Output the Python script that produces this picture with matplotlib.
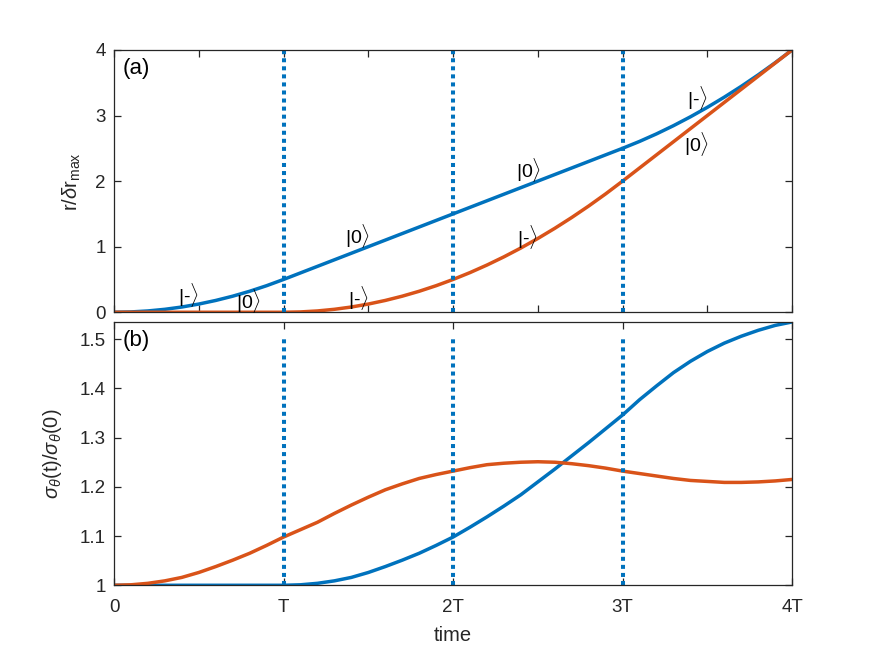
import numpy as np
import matplotlib
matplotlib.use("Agg")
import matplotlib.pyplot as plt

plt.rcParams['font.family'] = ['Liberation Sans', 'DejaVu Sans']
plt.rcParams['mathtext.fontset'] = 'custom'
plt.rcParams['mathtext.rm'] = 'Liberation Sans'
plt.rcParams['mathtext.it'] = 'Liberation Sans:italic'

BLUE = '#0072BD'
ORANGE = '#D95319'
AX = '#262626'

# time in units of T
t = [0.0, 0.1, 0.2, 0.3, 0.4, 0.5, 0.6, 0.7, 0.8, 0.9, 1.0,
     1.1, 1.2, 1.3, 1.4, 1.5, 1.6, 1.7, 1.8, 1.9, 2.0,
     2.1, 2.2, 2.3, 2.4, 2.5, 2.6, 2.7, 2.8, 2.9, 3.0,
     3.1, 3.2, 3.3, 3.4, 3.5, 3.6, 3.7, 3.8, 3.9, 4.0]

# (a) r / delta r_max
r_blue = [0.0, 0.005, 0.02, 0.045, 0.08, 0.125, 0.18, 0.245, 0.32, 0.405, 0.5,
          0.6, 0.7, 0.8, 0.9, 1.0, 1.1, 1.2, 1.3, 1.4, 1.5,
          1.6, 1.7, 1.8, 1.9, 2.0, 2.1, 2.2, 2.3, 2.4, 2.5,
          2.605, 2.72, 2.845, 2.98, 3.125, 3.28, 3.445, 3.62, 3.805, 4.0]
r_orange = [0.0, 0.0, 0.0, 0.0, 0.0, 0.0, 0.0, 0.0, 0.0, 0.0, 0.0,
            0.005, 0.02, 0.045, 0.08, 0.125, 0.18, 0.245, 0.32, 0.405, 0.5,
            0.605, 0.72, 0.845, 0.98, 1.125, 1.28, 1.445, 1.62, 1.805, 2.0,
            2.2, 2.4, 2.6, 2.8, 3.0, 3.2, 3.4, 3.6, 3.8, 4.0]

# (b) sigma_theta(t) / sigma_theta(0)
s_blue = [1.0, 1.0, 1.0, 1.0, 1.0, 1.0, 1.0, 1.0, 1.0, 1.0, 1.0,
          1.001, 1.004, 1.009, 1.016, 1.026, 1.038, 1.051, 1.065, 1.081, 1.098,
          1.118, 1.139, 1.161, 1.184, 1.21, 1.236, 1.263, 1.29, 1.318, 1.346,
          1.377, 1.405, 1.432, 1.455, 1.475, 1.492, 1.506, 1.518, 1.528, 1.535]
s_orange = [1.0, 1.001, 1.004, 1.009, 1.016, 1.026, 1.038, 1.051, 1.065, 1.081, 1.098,
            1.113, 1.128, 1.146, 1.163, 1.179, 1.194, 1.206, 1.217, 1.225, 1.232,
            1.239, 1.245, 1.248, 1.25, 1.251, 1.25, 1.247, 1.243, 1.238, 1.232,
            1.227, 1.222, 1.217, 1.213, 1.211, 1.209, 1.209, 1.21, 1.212, 1.215]

t_marks = [1, 2, 3]
x_ticks = [0, 1, 2, 3, 4]
x_labels = ['0', 'T', '2T', '3T', '4T']

# ket labels in panel (a): (t, value, text)
kets = [(0.38, 0.27, '|-'), (0.72, 0.17, '|0'), (1.36, 1.16, '|0'), (1.38, 0.21, '|-'),
        (2.37, 2.17, '|0'), (2.38, 1.15, '|-'), (3.38, 3.26, '|-'), (3.36, 2.57, '|0')]


def style(ax):
    for s in ax.spines.values():
        s.set_color(AX)
        s.set_linewidth(0.9)
    ax.tick_params(direction='in', top=True, right=True, length=5, width=0.9,
                   colors=AX, labelsize=13.5)
    ax.tick_params(axis='x', pad=10)
    ax.tick_params(axis='y', pad=6)


fig = plt.figure(figsize=(8.75, 6.56), dpi=100)
ax1 = fig.add_axes([0.1303, 0.524, 0.775, 0.3999])
ax2 = fig.add_axes([0.1303, 0.1078, 0.775, 0.4018])

# top panel
ax1.plot(t, r_blue, color=BLUE, lw=2.5)
ax1.plot(t, r_orange, color=ORANGE, lw=2.5)
for m in t_marks:
    ax1.plot([m, m], [0, 4], color=BLUE, lw=2.9, linestyle=(0, (1, 1)),
             dash_capstyle='butt')
for x, y, s in kets:
    ax1.text(x, y, s + r'$\rangle$', fontsize=14, va='center', ha='left', color='black')
ax1.text(0.05, 3.72, '(a)', fontsize=16, va='center', ha='left')
ax1.set_xlim(0, 4)
ax1.set_ylim(0, 4)
ax1.set_xticks(np.arange(0, 4.01, 0.5))
ax1.set_xticklabels([])
ax1.set_yticks([0, 1, 2, 3, 4])
ax1.set_ylabel(r'r/$\delta$r$_{\rm max}$', fontsize=14.5, color=AX, labelpad=8.5)
style(ax1)

# bottom panel
ax2.plot(t, s_blue, color=BLUE, lw=2.5)
ax2.plot(t, s_orange, color=ORANGE, lw=2.5)
for m in t_marks:
    ax2.plot([m, m], [1, 1.5], color=BLUE, lw=2.9, linestyle=(0, (1, 1)),
             dash_capstyle='butt')
ax2.text(0.05, 1.497, '(b)', fontsize=16, va='center', ha='left')
ax2.set_xlim(0, 4)
ax2.set_ylim(1, 1.5355)
ax2.set_xticks(x_ticks)
ax2.set_xticklabels(x_labels)
ax2.set_yticks([1, 1.1, 1.2, 1.3, 1.4, 1.5])
ax2.set_yticklabels(['1', '1.1', '1.2', '1.3', '1.4', '1.5'])
ax2.set_ylabel(r'$\sigma_\theta$(t)/$\sigma_\theta$(0)', fontsize=14.5, color=AX, labelpad=11)
ax2.set_xlabel('time', fontsize=14.5, color=AX, labelpad=7)
style(ax2)

fig.savefig('out.png', dpi=100)
